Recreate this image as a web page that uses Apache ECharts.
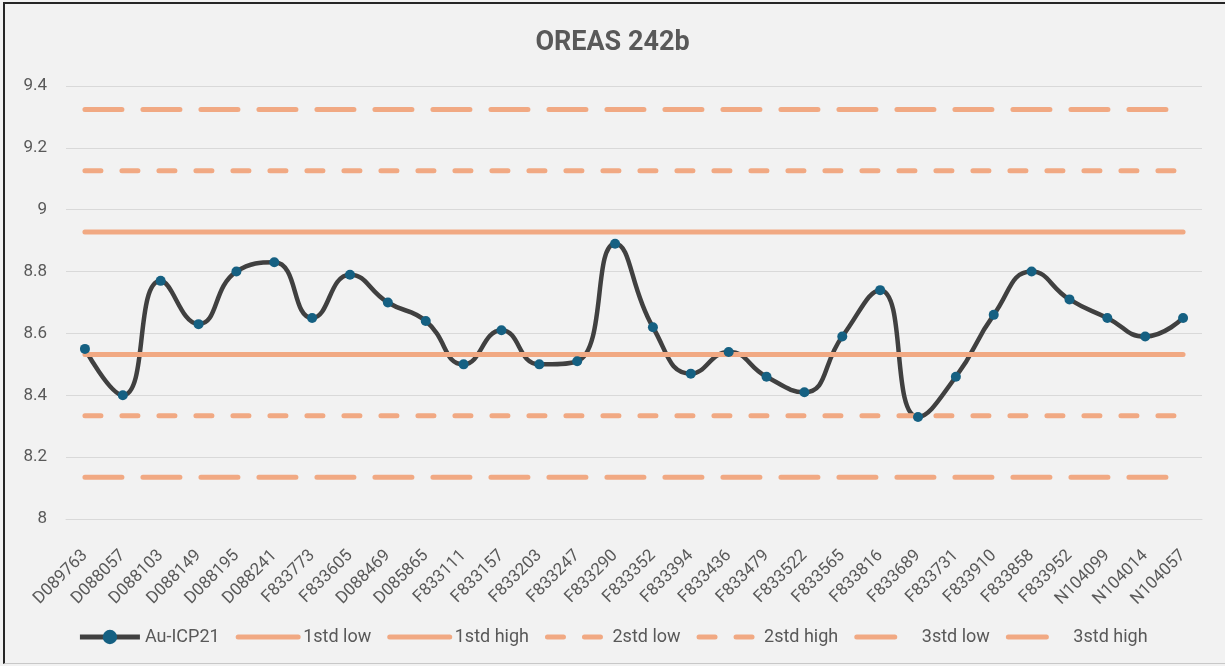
<!DOCTYPE html>
<html>
<head>
<meta charset="utf-8">
<script src="https://cdn.jsdelivr.net/npm/echarts@6/dist/echarts.min.js"></script>
<style>
  html, body { margin: 0; padding: 0; background: #fff; }
  #chart { position: absolute; left: 0; top: 0; width: 1225px; height: 666px; background: #f2f2f2; }
  #frame { position: absolute; left: 3px; top: 2px; width: 1222px; height: 662px;
           border-left: 2px solid #262626; border-top: 2px solid #262626; border-bottom: 1px solid #c8c8c8;
           box-sizing: border-box; pointer-events: none; }
</style>
</head>
<body>
<div id="chart"></div>
<div id="frame"></div>
<script>
const categories = ['D089763', 'D088057', 'D088103', 'D088149', 'D088195', 'D088241', 'F833773', 'F833605',
  'D088469', 'D085865', 'F833111', 'F833157', 'F833203', 'F833247', 'F833290', 'F833352', 'F833394',
  'F833436', 'F833479', 'F833522', 'F833565', 'F833816', 'F833689', 'F833731', 'F833910', 'F833858',
  'F833952', 'N104099', 'N104014', 'N104057']
const auIcp21 = [8.55, 8.40, 8.77, 8.63, 8.80, 8.83, 8.65, 8.79, 8.70, 8.64, 8.50, 8.61, 8.50, 8.51, 8.89,
  8.62, 8.47, 8.54, 8.46, 8.41, 8.59, 8.74, 8.33, 8.46, 8.66, 8.80, 8.71, 8.65, 8.59, 8.65]
const limitNames = ['1std low', '1std high', '2std low', '2std high', '3std low', '3std high']
const limitValues = [8.532, 8.928, 8.334, 9.126, 8.135, 9.324]

const orange = '#f1a983'
const textColor = '#595959'
// dash pattern per std level (round caps add to the visible dash length)
const dashFor = {
  1: 'solid',
  2: [16, 21],
  3: [37, 21]
}
// the legend swatch of the 3std lines is one long dash
const legendDashFor = {
  1: 'solid',
  2: [16, 21],
  3: [38, 100]
}

const chart = echarts.init(document.getElementById('chart'))

const limitSeries = limitNames.map((name, i) => ({
  name: name,
  type: 'line',
  data: categories.map(() => limitValues[i]),
  symbol: 'none',
  silent: true,
  lineStyle: {
    color: orange,
    width: 5,
    cap: 'round',
    type: dashFor[Math.floor(i / 2) + 1]
  },
  itemStyle: { color: orange }
}))

chart.setOption({
  backgroundColor: '#f2f2f2',
  animation: false,
  title: {
    text: 'OREAS 242b',
    left: 'center',
    top: 25,
    textStyle: {
      fontFamily: 'Roboto',
      fontSize: 27,
      fontWeight: 'bold',
      color: textColor
    }
  },
  legend: {
    left: 'center',
    top: 623,
    itemWidth: 60,
    itemHeight: 18,
    itemGap: 16,
    lineStyle: { width: 5 },
    textStyle: { fontFamily: 'Roboto', fontSize: 18, color: textColor },
    data: [{ name: 'Au-ICP21', lineStyle: { width: 5 } }].concat(limitNames.map((n, i) => ({
      name: n,
      itemStyle: { opacity: 0 },
      lineStyle: { width: 5, cap: 'round', type: legendDashFor[Math.floor(i / 2) + 1] }
    })))
  },
  grid: {
    left: 66,
    right: 23,
    top: 86,
    bottom: 147
  },
  xAxis: {
    type: 'category',
    data: categories,
    boundaryGap: true,
    axisTick: { show: false },
    axisLine: { lineStyle: { color: '#d9d9d9', width: 1 } },
    axisLabel: {
      interval: 0,
      rotate: 45,
      margin: 34,
      fontFamily: 'Roboto',
      fontSize: 17,
      color: textColor
    }
  },
  yAxis: {
    type: 'value',
    min: 8,
    max: 9.4,
    interval: 0.2,
    axisLine: { show: false },
    axisTick: { show: false },
    axisLabel: {
      margin: 19,
      fontFamily: 'Roboto',
      fontSize: 17,
      color: textColor
    },
    splitLine: { lineStyle: { color: '#d9d9d9', width: 1 } }
  },
  series: [{
    name: 'Au-ICP21',
    type: 'line',
    data: auIcp21,
    smooth: 0.5,
    symbol: 'circle',
    symbolSize: 10,
    lineStyle: { color: '#404040', width: 4.5 },
    itemStyle: { color: '#156082', borderWidth: 0 }
  }].concat(limitSeries)
})
</script>
</body>
</html>
